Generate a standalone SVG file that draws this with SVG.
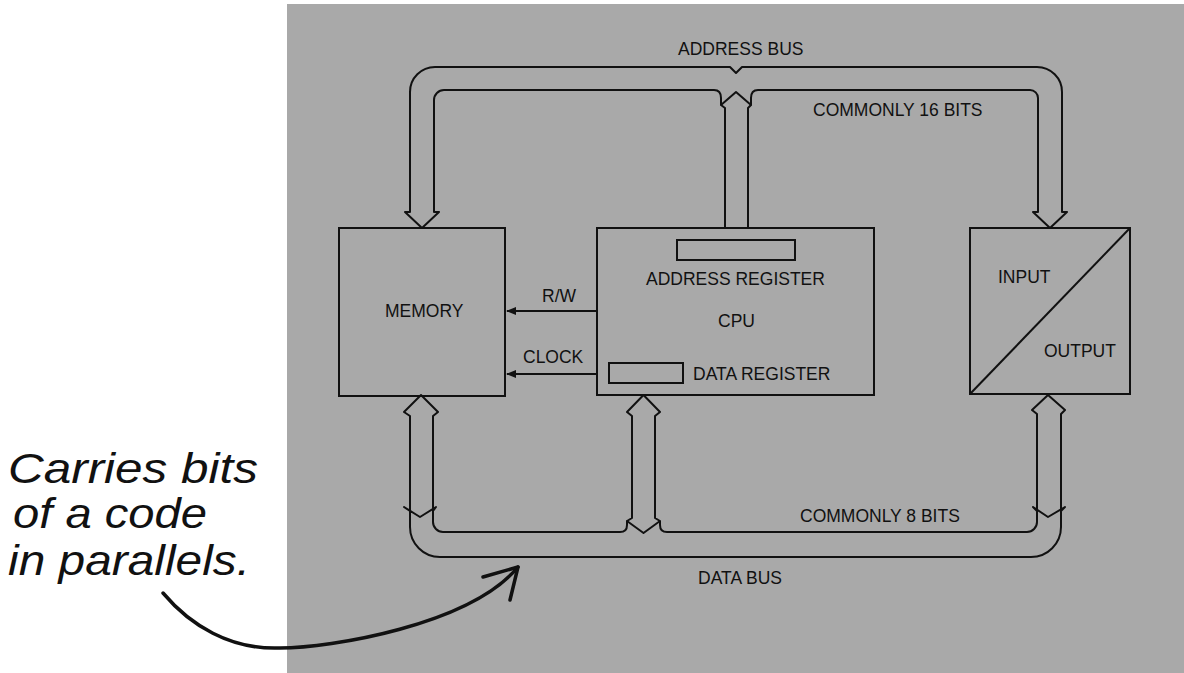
<svg xmlns="http://www.w3.org/2000/svg" width="1184" height="673" viewBox="0 0 1184 673">
<style>
.lbl{font-family:"Liberation Sans",Arial,sans-serif;font-size:17.5px;fill:#111}
.box{fill:none;stroke:#111;stroke-width:2}
.bus{fill:none;stroke:#111;stroke-width:2;stroke-linejoin:round}
.hand{font-family:"Liberation Sans",Arial,sans-serif;font-style:italic;font-size:42px;fill:#111}
</style>
<defs>
<marker id="ah" markerWidth="10" markerHeight="8" refX="9" refY="4" orient="auto" markerUnits="userSpaceOnUse" viewBox="0 0 10 8">
<path d="M0,0 L10,4 L0,8 Z" fill="#111"/>
</marker>
</defs>
<rect width="1184" height="673" fill="#ffffff"/>
<rect x="287" y="4" width="897" height="669" fill="#a9a9a9"/>

<g id="connectors">
  <g id="address-bus">
    <path class="bus" d="M 434,212 L 434,100 A 10 10 0 0 1 444,90 L 714,90 Q 721,90 721,98 L 721,105 L 736,92 L 751,105 L 751,98 Q 751,90 758,90 L 1030,90 A 8 8 0 0 1 1038,98 L 1038,212 L 1033,212 L 1050,228 L 1067,212 L 1062,212 L 1062,92 A 25 25 0 0 0 1037,67 L 742,67 L 736,73 L 730,67 L 435,67 A 25 25 0 0 0 410,92 L 410,212 L 405,212 L 422,228 L 439,212 Z"/>
    <path class="bus" d="M 725,228 L 725,108 L 721,105 M 748,228 L 748,108 L 751,105"/>
  </g>
  <g id="data-bus">
    <path class="bus" d="M 410,511 L 404,507 L 420,517 L 436,507 L 433,511 L 433,522 A 10 10 0 0 0 443,532 L 620,532 Q 627,532 627,525 L 627,521 L 643.5,533 L 660,521 L 660,525 Q 660,532 667,532 L 1027,532 A 10 10 0 0 0 1037,522 L 1037,511 L 1033,507 L 1048,517 L 1065,507 L 1061,511 L 1061,527 A 30 30 0 0 1 1031,557 L 440,557 A 30 30 0 0 1 410,527 Z"/>
    <path class="bus" d="M 410,511 L 410,416 L 404,412 L 421,395 L 438,412 L 433,416 L 433,511"/>
    <path class="bus" d="M 627,521 L 632,518 L 632,416 L 627,412 L 643.5,395 L 660,412 L 655,416 L 655,518 L 660,521"/>
    <path class="bus" d="M 1037,511 L 1037,414 L 1032,410 L 1048,395 L 1065,410 L 1061,414 L 1061,511"/>
  </g>
  <g id="control-lines">
    <line x1="597" y1="311" x2="507" y2="311" stroke="#111" stroke-width="2" marker-end="url(#ah)"/>
    <line x1="597" y1="374" x2="507" y2="374" stroke="#111" stroke-width="2" marker-end="url(#ah)"/>
  </g>
  <g id="note-arrow">
    <path d="M 163,593 C 190,625 230,650 280,648 C 330,648 470,625 518,567" fill="none" stroke="#111" stroke-width="3.5" stroke-linecap="round"/>
    <path d="M 483,577 L 518,567 L 510,600" fill="none" stroke="#111" stroke-width="3.5" stroke-linecap="round" stroke-linejoin="round"/>
  </g>
</g>

<g id="memory">
  <rect class="box" x="339" y="228" width="166" height="168"/>
  <text class="lbl" x="385" y="317">MEMORY</text>
</g>

<g id="cpu">
  <rect class="box" x="597" y="228" width="277" height="167"/>
  <rect class="box" x="677" y="240" width="118" height="20"/>
  <text class="lbl" x="646" y="285">ADDRESS REGISTER</text>
  <text class="lbl" x="718" y="327">CPU</text>
  <rect class="box" x="609" y="363" width="74" height="20"/>
  <text class="lbl" x="693" y="380">DATA REGISTER</text>
</g>

<g id="io">
  <rect class="box" x="970" y="228" width="160" height="166"/>
  <line x1="970" y1="394" x2="1130" y2="228" stroke="#111" stroke-width="2"/>
  <text class="lbl" x="998" y="283">INPUT</text>
  <text class="lbl" x="1044" y="357">OUTPUT</text>
</g>

<g id="labels">
  <text class="lbl" x="678" y="55">ADDRESS BUS</text>
  <text class="lbl" x="813" y="116">COMMONLY 16 BITS</text>
  <text class="lbl" x="542" y="302">R/W</text>
  <text class="lbl" x="523" y="363">CLOCK</text>
  <text class="lbl" x="800" y="522">COMMONLY 8 BITS</text>
  <text class="lbl" x="698" y="584">DATA BUS</text>
</g>

<g id="note">
  <text class="hand" x="8" y="483" textLength="250" lengthAdjust="spacingAndGlyphs">Carries bits</text>
  <text class="hand" x="13" y="528" textLength="194" lengthAdjust="spacingAndGlyphs">of a code</text>
  <text class="hand" x="8" y="575" textLength="242" lengthAdjust="spacingAndGlyphs">in parallels.</text>
</g>
</svg>
